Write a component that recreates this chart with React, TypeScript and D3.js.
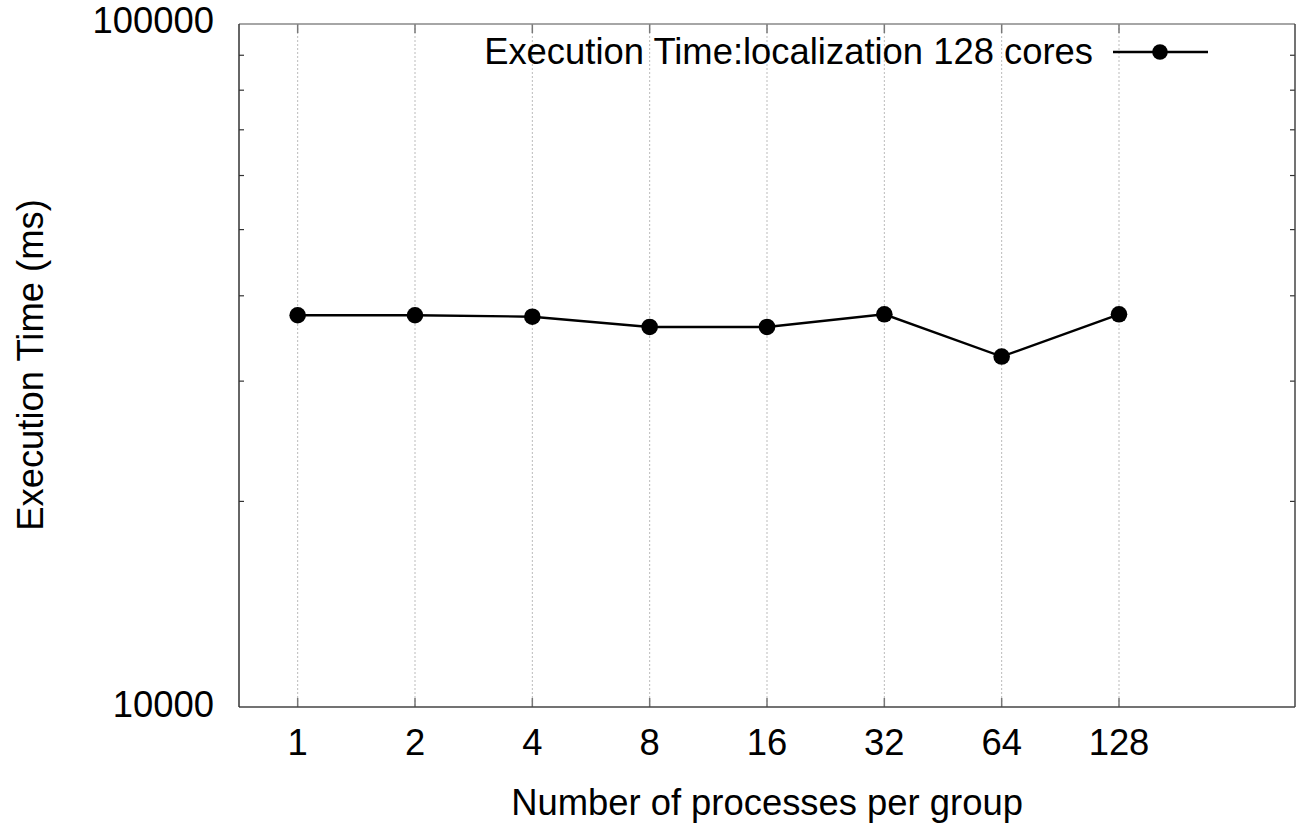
import React from "react";
import * as d3 from "d3";

const processes = [1, 2, 4, 8, 16, 32, 64, 128];
const execTime = [37460, 37460, 37280, 36010, 36010, 37580, 32590, 37580];
const yMajorTicks = [10000, 100000];
const yMinorTicks = [20000, 30000, 40000, 50000, 60000, 70000, 80000, 90000];
const seriesName = "Execution Time:localization 128 cores";
const xTitle = "Number of processes per group";
const yTitle = "Execution Time (ms)";

const W = 1300, H = 825;
const L = 239, R = 1295, T = 24, B = 707;
const FONT = "'Liberation Sans', Arial, sans-serif";
const FS = 36.4;

export default function App() {
  const x = d3.scaleLinear().domain([-0.5, 8.5]).range([L, R]);
  const y = d3.scaleLog().domain([10000, 100000]).range([B, T]);
  const px = (p: number) => x(Math.log2(p));
  const line = d3.line<number>().x((_, i) => px(processes[i])).y((d) => y(d));

  return (
    <svg width={W} height={H} style={{ position: "absolute", left: 0, top: 0, background: "#fff" }}>
      <rect x={0} y={0} width={W} height={H} fill="#fff" />
      {/* vertical grid */}
      {processes.map((p) => (
        <line key={"g" + p} x1={px(p)} x2={px(p)} y1={T} y2={B} stroke="#bbb" strokeWidth={1} strokeDasharray="2,2" />
      ))}
      {/* x ticks top and bottom */}
      {processes.map((p) => (
        <g key={"t" + p}>
          <line x1={px(p)} x2={px(p)} y1={B} y2={B - 9} stroke="#777" strokeWidth={1.5} />
          <line x1={px(p)} x2={px(p)} y1={T} y2={T + 9} stroke="#777" strokeWidth={1.5} />
          <text x={px(p)} y={755} textAnchor="middle" fontFamily={FONT} fontSize={FS} fill="#000">{p}</text>
        </g>
      ))}
      {/* y minor ticks */}
      {yMinorTicks.map((v) => (
        <g key={"m" + v}>
          <line x1={L} x2={L + 5} y1={y(v)} y2={y(v)} stroke="#333" strokeWidth={1.2} />
          <line x1={R} x2={R - 5} y1={y(v)} y2={y(v)} stroke="#333" strokeWidth={1.2} />
        </g>
      ))}
      {/* y major labels */}
      {yMajorTicks.map((v) => (
        <text key={"l" + v} x={214} y={y(v) + (v === 100000 ? 9 : 10)} textAnchor="end" fontFamily={FONT} fontSize={FS} fill="#000">{v}</text>
      ))}
      {/* frame */}
      <line x1={L} x2={R} y1={T} y2={T} stroke="#888" strokeWidth={1.5} />
      <line x1={L} x2={R} y1={B} y2={B} stroke="#444" strokeWidth={1.5} />
      <line x1={L} x2={L} y1={T} y2={B} stroke="#333" strokeWidth={1.5} />
      <line x1={R} x2={R} y1={T} y2={B} stroke="#444" strokeWidth={1.5} />
      {/* series */}
      <path d={line(execTime) || ""} fill="none" stroke="#000" strokeWidth={2.4} />
      {execTime.map((v, i) => (
        <circle key={"c" + i} cx={px(processes[i])} cy={y(v)} r={8.3} fill="#000" />
      ))}
      {/* legend */}
      <text x={1093} y={64} textAnchor="end" fontFamily={FONT} fontSize={FS} fill="#000">{seriesName}</text>
      <line x1={1113} x2={1208} y1={52} y2={52} stroke="#000" strokeWidth={2.4} />
      <circle cx={1160} cy={52} r={7.8} fill="#000" />
      {/* titles */}
      <text x={(L + R) / 2} y={815} textAnchor="middle" fontFamily={FONT} fontSize={FS} fill="#000">{xTitle}</text>
      <text transform={`translate(43, 365) rotate(-90)`} textAnchor="middle" fontFamily={FONT} fontSize={FS} fill="#000">{yTitle}</text>
    </svg>
  );
}
